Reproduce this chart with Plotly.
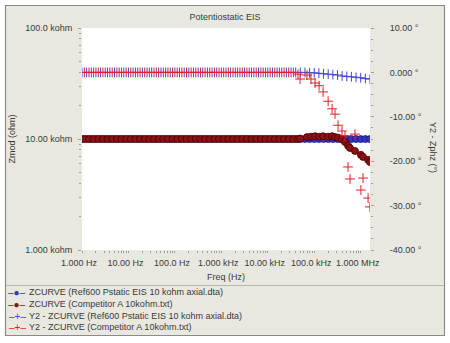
import plotly.graph_objects as go

# ---------------- data ----------------
ref_freq = [1, 1.259, 1.585, 1.995, 2.512, 3.162, 3.981, 5.012, 6.31, 7.943,
            10, 12.59, 15.85, 19.95, 25.12, 31.62, 39.81, 50.12, 63.1, 79.43,
            100, 125.9, 158.5, 199.5, 251.2, 316.2, 398.1, 501.2, 631, 794.3,
            1000, 1259, 1585, 1995, 2512, 3162, 3981, 5012, 6310, 7943,
            10000, 12590, 15850, 19950, 25120, 31620, 39810, 50120, 63100, 79430,
            100000, 125900, 158500, 199500, 251200, 316200, 398100, 501200, 631000, 794300,
            1000000, 1259000, 1585000]
ref_zmod = [10000, 10000, 10000, 10000, 10000, 10000, 10000, 10000, 10000, 10000,
            10000, 10000, 10000, 10000, 10000, 10000, 10000, 10000, 10000, 10000,
            10000, 10000, 10000, 10000, 10000, 10000, 10000, 10000, 10000, 10000,
            10000, 10000, 10000, 10000, 10000, 10000, 10000, 10000, 10000, 10000,
            10000, 10000, 10000, 10000, 10000, 10000, 10000, 10000, 10000, 10000,
            10000, 10000, 10000, 10000, 10000, 10000, 9990, 9990, 9990, 9990,
            9980, 9980, 9980]
ref_phase = [0.0, 0.0, 0.0, 0.0, 0.0, 0.0, 0.0, 0.0, 0.0, 0.0,
             0.0, 0.0, 0.0, 0.0, 0.0, 0.0, 0.0, 0.0, 0.0, 0.0,
             0.0, 0.0, 0.0, 0.0, 0.0, 0.0, 0.0, 0.0, 0.0, 0.0,
             0.0, 0.0, 0.0, 0.0, 0.0, 0.0, 0.0, 0.0, 0.0, 0.0,
             0.0, 0.0, 0.0, 0.0, 0.0, 0.0, 0.0, 0.0, 0.0, -0.1,
             -0.1, -0.2, -0.3, -0.4, -0.5, -0.6, -0.8, -0.9, -1.0, -1.1,
             -1.2, -1.4, -1.5]

comp_freq = [1.122, 1.413, 1.778, 2.239, 2.818, 3.548, 4.467, 5.623, 7.079, 8.913,
             11.22, 14.13, 17.78, 22.39, 28.18, 35.48, 44.67, 56.23, 70.79, 89.13,
             112.2, 141.3, 177.8, 223.9, 281.8, 354.8, 446.7, 562.3, 707.9, 891.3,
             1122, 1413, 1778, 2239, 2818, 3548, 4467, 5623, 7079, 8913,
             11220, 14130, 17780, 22390, 28180, 35480,
             44700, 49500, 69700, 85000, 104000, 127000, 155000, 199000, 242000, 280000,
             325000, 395000, 458000, 533000, 588000, 753000, 1010000, 1120000, 1440000, 1580000]
comp_zmod = [10000, 10000, 10000, 10000, 10000, 10000, 10000, 10000, 10000, 10000,
             10000, 10000, 10000, 10000, 10000, 10000, 10000, 10000, 10000, 10000,
             10000, 10000, 10000, 10000, 10000, 10000, 10000, 10000, 10000, 10000,
             10000, 10000, 10000, 10000, 10000, 10000, 10000, 10000, 10000, 10000,
             10000, 10000, 10000, 10000, 10000, 10000,
             10000, 10100, 10400, 10500, 10600, 10500, 10600, 10500, 10600, 10400,
             10300, 9900, 9400, 8700, 8300, 7800, 7200, 6900, 6500, 6200]
comp_phase = [0.0, 0.0, 0.0, 0.0, 0.0, 0.0, 0.0, 0.0, 0.0, 0.0,
              0.0, 0.0, 0.0, 0.0, 0.0, 0.0, 0.0, 0.0, 0.0, 0.0,
              0.0, 0.0, 0.0, 0.0, 0.0, 0.0, 0.0, 0.0, 0.0, 0.0,
              0.0, 0.0, 0.0, 0.0, 0.0, 0.0, 0.0, 0.0, 0.0, 0.0,
              0.0, 0.0, 0.0, 0.0, 0.0, 0.0,
              -0.4, -1.5, -0.6, -1.5, -2.4, -3.0, -4.4, -6.5, -8.2, -9.4,
              -11.9, -13.2, -14.3, -21.3, -24.0, -13.9, -26.5, -23.8, -28.3, -30.3]

x_tickvals = [1, 10, 100, 1000, 10000, 100000, 1000000]
x_ticktext = ["1.000 Hz", "10.00 Hz", "100.0 Hz", "1.000 kHz", "10.00 kHz", "100.0 kHz", "1.000 MHz"]
y_tickvals = [1000, 10000, 100000]
y_ticktext = ["1.000 kohm", "10.00 kohm", "100.0 kohm"]
y2_tickvals = [-40, -30, -20, -10, 0, 10]
y2_ticktext = ["-40.00 °", "-30.00 °", "-20.00 °", "-10.00 °", "0.000 °", "10.00 °"]

legend_names = ["ZCURVE (Ref600 Pstatic EIS 10 kohm axial.dta)",
                "ZCURVE (Competitor A 10kohm.txt)",
                "Y2 - ZCURVE (Ref600 Pstatic EIS 10 kohm axial.dta)",
                "Y2 - ZCURVE (Competitor A 10kohm.txt)"]

# ---------------- style ----------------
FONT = "Liberation Sans, Arial, sans-serif"
TXT = "#3a3a3a"
PANEL = "#E8E8E0"
BLUE_Z = "#3434C4"
RED_Z = "#8A1212"
BLUE_P = "#4646D2"
RED_P = "#E41E2A"
TICK = "#a0a0a0"

W, H = 450, 343
L, R, T, B = 82, 80, 28, 93
PW, PH = W - L - R, H - T - B


def px(xp):
    return (xp - L) / PW


def py(yp):
    return (H - B - yp) / PH


fig = go.Figure()
fig.add_trace(go.Scatter(x=ref_freq, y=ref_zmod, name=legend_names[0], mode="lines+markers",
                         line=dict(color=BLUE_Z, width=1),
                         marker=dict(symbol="circle", size=7, color=BLUE_Z,
                                     line=dict(color="#1a1a7a", width=0.8)),
                         yaxis="y", showlegend=False))
fig.add_trace(go.Scatter(x=comp_freq, y=comp_zmod, name=legend_names[1], mode="lines+markers",
                         line=dict(color=RED_Z, width=1),
                         marker=dict(symbol="circle", size=7, color=RED_Z,
                                     line=dict(color="#4a0000", width=0.8)),
                         yaxis="y", showlegend=False))
fig.add_trace(go.Scatter(x=ref_freq, y=ref_phase, name=legend_names[2], mode="markers",
                         marker=dict(symbol="cross-thin", size=7,
                                     line=dict(color=BLUE_P, width=1)),
                         yaxis="y2", showlegend=False))
fig.add_trace(go.Scatter(x=comp_freq, y=comp_phase, name=legend_names[3], mode="markers",
                         marker=dict(symbol="cross-thin", size=7,
                                     line=dict(color=RED_P, width=1)),
                         yaxis="y2", showlegend=False))

axis_font = dict(family=FONT, size=9, color=TXT)

fig.update_layout(
    width=W, height=H, autosize=False,
    margin=dict(l=L, r=R, t=T, b=B, pad=0),
    paper_bgcolor=PANEL, plot_bgcolor="white",
    font=axis_font,
    title=dict(text="Potentiostatic EIS", x=0.5, xanchor="center", xref="container",
               y=1 - 17 / H, yanchor="middle", yref="container",
               font=dict(family=FONT, size=9, color=TXT)),
    xaxis=dict(type="log", range=[0, 6.2], tickmode="array", tickvals=x_tickvals,
               ticktext=x_ticktext,
               ticks="outside", ticklen=2, tickcolor=TICK, showgrid=False, zeroline=False,
               showline=False, ticklabelshift=-3, ticklabelstandoff=2,
               minor=dict(ticks="outside", ticklen=2, tickcolor=TICK, dtick="D1",
                          showgrid=False),
               tickfont=axis_font,
               title=dict(text="Freq (Hz)", font=axis_font, standoff=6)),
    yaxis=dict(type="log", range=[3, 5], tickmode="array", tickvals=y_tickvals,
               ticktext=y_ticktext,
               ticks="outside", ticklen=3, tickcolor=TICK, showgrid=False, zeroline=False,
               showline=False, ticklabelstandoff=4,
               minor=dict(ticks="outside", ticklen=2, tickcolor=TICK, dtick="D1",
                          showgrid=False),
               tickfont=axis_font,
               title=dict(text="Zmod (ohm)", font=axis_font, standoff=8)),
    yaxis2=dict(overlaying="y", side="right", range=[-40, 10], tickmode="array",
                tickvals=y2_tickvals,
                ticktext=y2_ticktext, ticks="outside", ticklen=3, tickcolor=TICK,
                showgrid=False, zeroline=False, showline=False, ticklabelstandoff=14,
                minor=dict(ticks="outside", ticklen=2, tickcolor=TICK, dtick=2.5,
                           showgrid=False),
                tickfont=axis_font),
)

# right axis title (reads top to bottom)
annotations = [dict(text="Y2 - Zphz (°)", x=px(433), y=py(147), xref="paper", yref="paper",
                    textangle=90, showarrow=False, font=axis_font,
                    xanchor="center", yanchor="middle")]

# legend rows drawn as text
leg_y = [292, 304, 316, 327]
leg_sym = ["–●–", "–●–", "–+–", "–+–"]
leg_col = [BLUE_Z, RED_Z, BLUE_P, RED_P]
for i in range(4):
    annotations.append(dict(text=leg_sym[i], x=px(17), y=py(leg_y[i]), xref="paper", yref="paper",
                            showarrow=False, xanchor="center", yanchor="middle",
                            font=dict(family=FONT, size=10, color=leg_col[i])))
    annotations.append(dict(text=legend_names[i], x=px(27), y=py(leg_y[i]), xref="paper",
                            yref="paper", showarrow=False, xanchor="left", yanchor="middle",
                            font=axis_font))
fig.update_layout(annotations=annotations)

# panel decoration: white outer frame, border and legend separator
shapes = []
for (x0, x1, y0, y1) in [(0, 5, 0, H), (445, W, 0, H), (0, W, 0, 5), (0, W, 336, H)]:
    shapes.append(dict(type="rect", xref="paper", yref="paper", x0=px(x0), x1=px(x1),
                       y0=py(y1), y1=py(y0), fillcolor="white", line=dict(width=0),
                       layer="above"))
shapes.append(dict(type="rect", xref="paper", yref="paper", x0=px(5.5), x1=px(444.5),
                   y0=py(335.5), y1=py(5.5), line=dict(color="#8a8a8a", width=1.2),
                   fillcolor="rgba(0,0,0,0)", layer="above"))
shapes.append(dict(type="line", xref="paper", yref="paper", x0=px(6), x1=px(444),
                   y0=py(285.5), y1=py(285.5), line=dict(color="#b8b8b0", width=1),
                   layer="above"))
fig.update_layout(shapes=shapes)

fig.write_html("out.html")
